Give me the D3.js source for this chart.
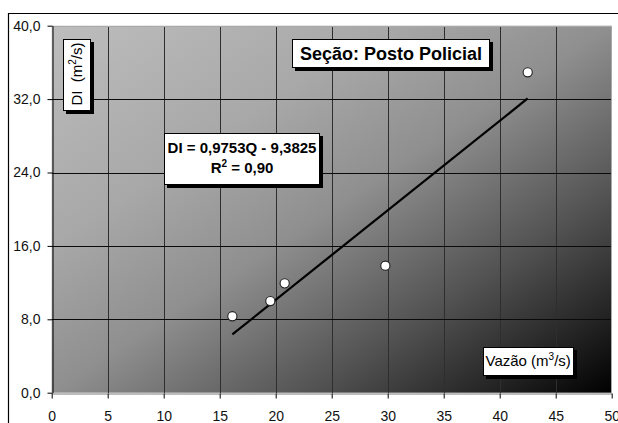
<!DOCTYPE html>
<html>
<head>
<meta charset="utf-8">
<script src="https://cdn.jsdelivr.net/npm/d3@7/dist/d3.min.js"></script>
<style>
  html, body { margin: 0; padding: 0; background: #fff; }
  svg { display: block; font-family: "Liberation Sans", Arial, sans-serif; }
</style>
</head>
<body>
<svg id="chart" width="618" height="423"></svg>
<script>
// Measured discharge (Q, m³/s) and DI (m²/s) at the Posto Policial section
const vazao = [16.13, 19.52, 20.8, 29.79, 42.5];
const di = [8.33, 9.99, 11.92, 13.84, 34.92];

// Linear fit reported on the chart
const slope = 0.9753;
const intercept = -9.3825;
const r2Label = "0,90";
const eqLabel = "DI = 0,9753Q - 9,3825";

const xTicks = [0, 5, 10, 15, 20, 25, 30, 35, 40, 45, 50];
const yTicks = [0, 8, 16, 24, 32, 40];

const titleText = "Seção: Posto Policial";

const svg = d3.select("#chart");
const W = 618, H = 423;
const margin = { left: 51.7, top: 25.7, right: W - 611.7, bottom: H - 392.7 };

const x = d3.scaleLinear().domain([0, 50]).range([margin.left, W - margin.right]);
const y = d3.scaleLinear().domain([0, 40]).range([H - margin.bottom, margin.top]);
const fmtY = d => d.toFixed(1).replace(".", ",");

// Outer chart frame (top and left edges)
svg.append("path")
  .attr("d", `M8.5,${H} V13.5 H${W}`)
  .attr("fill", "none").attr("stroke", "#000").attr("stroke-width", 1.2);

// Diagonal gray-to-black plot background
const defs = svg.append("defs");
const grad = defs.append("linearGradient").attr("id", "bg")
  .attr("x1", 0).attr("y1", 0).attr("x2", 1).attr("y2", 1);
[[0, "#bdbdbd"], [0.3, "#a8a8a8"], [0.5, "#8f8f8f"], [0.73, "#525252"], [0.88, "#262626"], [1, "#000"]]
  .forEach(([o, c]) => grad.append("stop").attr("offset", o).attr("stop-color", c));

const x0 = x(0), x1 = x(50), y0 = y(0), y1 = y(40);
svg.append("rect")
  .attr("x", x0).attr("y", y1).attr("width", x1 - x0).attr("height", y0 - y1)
  .attr("fill", "url(#bg)");

// Gridlines
const grid = svg.append("g").attr("shape-rendering", "crispEdges");
grid.selectAll("line.v").data(xTicks.filter(d => d > 0 && d < 50)).join("line")
  .attr("class", "v")
  .attr("x1", d => Math.round(x(d)) + 0.5).attr("x2", d => Math.round(x(d)) + 0.5)
  .attr("y1", y1).attr("y2", y0)
  .attr("stroke", "#2e2e2e").attr("stroke-width", 1);
grid.selectAll("line.h").data(yTicks.filter(d => d > 0 && d < 40)).join("line")
  .attr("class", "h")
  .attr("y1", d => Math.round(y(d)) + 0.5).attr("y2", d => Math.round(y(d)) + 0.5)
  .attr("x1", x0).attr("x2", x1)
  .attr("stroke", "#0a0a0a").attr("stroke-width", 1);

// Plot area border (top/right) in light gray
svg.append("path")
  .attr("d", `M${Math.round(x0)},${Math.round(y1) + 0.5} H${Math.round(x1) - 0.5} V${Math.round(y0)}`)
  .attr("fill", "none").attr("stroke", "#a9a9a9").attr("stroke-width", 1)
  .attr("shape-rendering", "crispEdges");

// Axes
const xAxis = svg.append("g")
  .attr("transform", `translate(0,${Math.round(y0) + 0.5})`)
  .call(d3.axisBottom(x).tickValues(xTicks).tickSize(5).tickSizeOuter(0).tickPadding(13));
xAxis.select(".domain").attr("stroke", "#7a7a7a");
xAxis.selectAll(".tick line").attr("stroke", "#000");
xAxis.selectAll("text").attr("font-size", 14).attr("fill", "#111")
  .attr("font-family", "Liberation Sans, Arial, sans-serif");

const yAxis = svg.append("g")
  .attr("transform", `translate(${Math.round(x0) + 0.5},0)`)
  .call(d3.axisLeft(y).tickValues(yTicks).tickFormat(fmtY).tickSize(5).tickSizeOuter(0).tickPadding(7));
yAxis.select(".domain").attr("stroke", "#000");
yAxis.selectAll(".tick line").attr("stroke", "#000");
yAxis.selectAll("text").attr("font-size", 14).attr("fill", "#111")
  .attr("font-family", "Liberation Sans, Arial, sans-serif");

// Trend line across the observed discharge range
const qMin = d3.min(vazao), qMax = d3.max(vazao);
svg.append("line")
  .attr("x1", x(qMin)).attr("y1", y(slope * qMin + intercept))
  .attr("x2", x(qMax)).attr("y2", y(slope * qMax + intercept))
  .attr("stroke", "#000").attr("stroke-width", 2.2);

// Observations
svg.append("g").selectAll("circle").data(vazao.map((q, i) => [q, di[i]])).join("circle")
  .attr("cx", d => x(d[0])).attr("cy", d => y(d[1])).attr("r", 4.6)
  .attr("fill", "#fff").attr("stroke", "#222").attr("stroke-width", 1.1);

// Boxed labels with a drop shadow
function shadowBox(bx, by, bw, bh) {
  svg.append("rect").attr("x", bx + 3).attr("y", by + 3).attr("width", bw).attr("height", bh)
    .attr("fill", "#000").attr("shape-rendering", "crispEdges");
  svg.append("rect").attr("x", bx + 0.5).attr("y", by + 0.5).attr("width", bw - 1).attr("height", bh - 1)
    .attr("fill", "#fff").attr("stroke", "#000").attr("stroke-width", 1)
    .attr("shape-rendering", "crispEdges");
}

// Title
shadowBox(292, 39, 198, 29);
svg.append("text").attr("x", 391).attr("y", 60).attr("text-anchor", "middle")
  .attr("font-size", 18).attr("font-weight", "bold").attr("fill", "#000")
  .text(titleText);

// Regression equation
shadowBox(164, 133, 156, 52);
svg.append("text").attr("x", 242).attr("y", 153.3).attr("text-anchor", "middle")
  .attr("font-size", 15).attr("font-weight", "bold").text(eqLabel);
const r2 = svg.append("text").attr("x", 242).attr("y", 173.3).attr("text-anchor", "middle")
  .attr("font-size", 15).attr("font-weight", "bold");
r2.append("tspan").text("R");
r2.append("tspan").attr("dy", -6).attr("font-size", 10).text("2");
r2.append("tspan").attr("dy", 6).text(" = " + r2Label);

// Y-axis title (vertical)
shadowBox(63, 39, 28, 72);
const yt = svg.append("text").attr("transform", "translate(81.5,74) rotate(-90)")
  .attr("text-anchor", "middle").attr("font-size", 15);
yt.append("tspan").text("DI\u00a0\u00a0(m");
yt.append("tspan").attr("dy", -6).attr("font-size", 10).text("2");
yt.append("tspan").attr("dy", 6).text("/s)");

// X-axis title
shadowBox(483, 347, 91, 29);
const xt = svg.append("text").attr("x", 485.5).attr("y", 366).attr("font-size", 15);
xt.append("tspan").text("Vazão (m");
xt.append("tspan").attr("dy", -6).attr("font-size", 10).text("3");
xt.append("tspan").attr("dy", 6).text("/s)");
</script>
</body>
</html>
